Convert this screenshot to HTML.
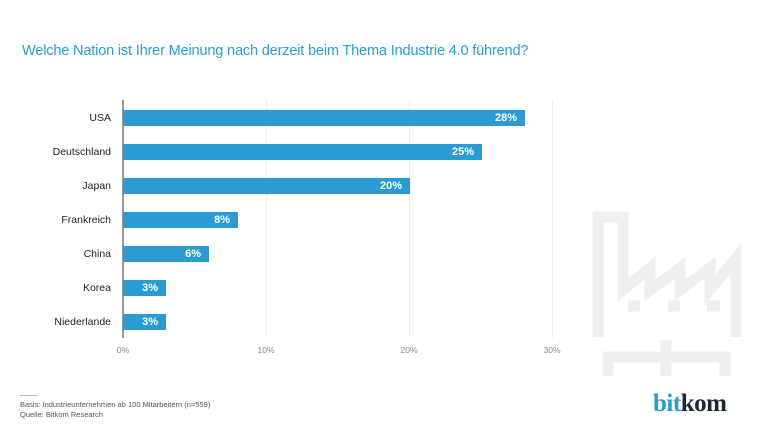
<!DOCTYPE html>
<html><head><meta charset="utf-8"><style>
body{margin:0;width:770px;height:433px;background:#fff;font-family:"Liberation Sans",sans-serif;position:relative;overflow:hidden}
.t{position:absolute;left:22px;top:43px;font-size:14.6px;color:#2a9fd1;letter-spacing:-0.2px}
.lab{position:absolute;right:659px;font-size:10.5px;color:#222;text-align:right;white-space:nowrap}
.bar{position:absolute;left:123px;height:16px;background:#2a9bd3;color:#fff;font-weight:bold;font-size:11px;text-align:right;box-sizing:border-box;padding-right:8px;line-height:16px}
.grid{position:absolute;top:100px;height:238px;width:1px;background:#eee}
.tick{position:absolute;top:345px;font-size:8.5px;color:#888;width:40px;margin-left:-20px;text-align:center}
.foot{position:absolute;left:20px;font-size:7.5px;color:#555}
</style></head><body>
<div class="t">Welche Nation ist Ihrer Meinung nach derzeit beim Thema Industrie 4.0 führend?</div>
<svg style="position:absolute;left:0;top:0" width="770" height="433">
<g fill="none" stroke="#efefef" stroke-width="11">
<polyline points="598,337 598,217 623,217 623,290 650,268 650,290 680,268 680,290 710,268 710,290 736,258 736,337"/>
<line x1="628" y1="306" x2="640" y2="306"/><line x1="668" y1="306" x2="680" y2="306"/><line x1="707" y1="306" x2="720" y2="306"/>
<polyline points="608,376 608,357 725,357 725,376"/>
<line x1="666" y1="340" x2="666" y2="376"/>
</g>
</svg>
<div class="grid" style="left:266px"></div>
<div class="grid" style="left:409px"></div>
<div class="grid" style="left:552px"></div>
<div style="position:absolute;left:122px;top:100px;width:1.5px;height:238px;background:#999"></div>
<div class="lab" style="top:112px">USA</div>
<div class="lab" style="top:146px">Deutschland</div>
<div class="lab" style="top:180px">Japan</div>
<div class="lab" style="top:214px">Frankreich</div>
<div class="lab" style="top:248px">China</div>
<div class="lab" style="top:282px">Korea</div>
<div class="lab" style="top:316px">Niederlande</div>
<div class="bar" style="top:110px;width:402px">28%</div>
<div class="bar" style="top:144px;width:359px">25%</div>
<div class="bar" style="top:178px;width:287px">20%</div>
<div class="bar" style="top:212px;width:115px">8%</div>
<div class="bar" style="top:246px;width:86px">6%</div>
<div class="bar" style="top:280px;width:43px">3%</div>
<div class="bar" style="top:314px;width:43px">3%</div>
<div class="tick" style="left:123px">0%</div>
<div class="tick" style="left:266px">10%</div>
<div class="tick" style="left:409px">20%</div>
<div class="tick" style="left:552px">30%</div>
<div style="position:absolute;left:20px;top:395px;width:18px;height:1px;background:#bbb"></div>
<div class="foot" style="top:400px">Basis: Industrieunternehmen ab 100 Mitarbeitern (n=559)</div>
<div class="foot" style="top:410px">Quelle: Bitkom Research</div>
<div style="position:absolute;left:653px;top:390px;font-family:'Liberation Serif',serif;font-weight:bold;font-size:25px;letter-spacing:-0.5px"><span style="color:#2a9bd3">bit</span><span style="color:#1a2a33">kom</span></div>
</body></html>
